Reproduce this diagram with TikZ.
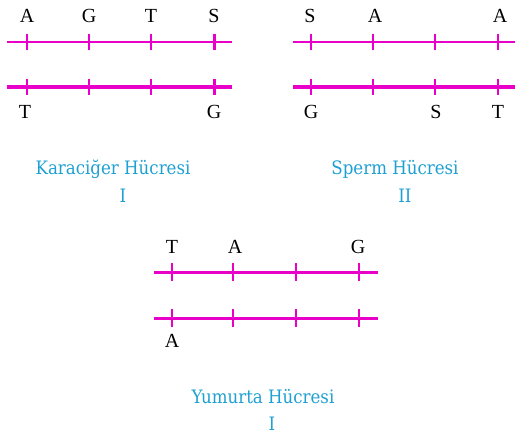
\documentclass[tikz,border=0pt]{standalone}
\usepackage{fontspec}
\setmainfont{Liberation Serif}
\newfontfamily\labfont{DejaVu Serif Condensed}
\definecolor{mag}{RGB}{232,0,200}
\definecolor{lblue}{RGB}{30,160,210}
\tikzset{
  strand/.style={draw=mag, line width=#1},
  tick/.style={draw=mag, line width=#1},
  base/.style={font=\fontsize{20}{20}\selectfont, text=black, inner sep=0pt, anchor=base},
  cell/.style={font=\labfont\fontsize{18.5}{18.5}\selectfont, text=lblue, inner sep=0pt, anchor=base},
}
\begin{document}
\begin{tikzpicture}[x=1pt,y=-1pt]
\useasboundingbox (0,0) rectangle (515,436);
% Panel I
\draw[strand=2.2pt] (7,42) -- (232,42);
\draw[strand=3.2pt] (7,87) -- (232,87);
\foreach \x/\w in {27/1.6pt,89/1.6pt,151/1.6pt,214/3pt}{
  \draw[tick=\w] (\x,34) -- (\x,50);
  \draw[tick=\w] (\x,79) -- (\x,95);
}
\node[base] (a1) at (27,23) {A};
\node[base] (g1) at (89,23) {G};
\node[base] (t1) at (151,23) {T};
\node[base] (s1) at (214,23) {S};
\node[base] (t1b) at (25,119) {T};
\node[base] (g1b) at (214,119) {G};
\node[cell] (k) at (113,175) {Karaciğer Hücresi};
\node[cell] (k1) at (123,202) {I};
% Panel II
\draw[strand=2.2pt] (293,42) -- (515,42);
\draw[strand=3.2pt] (293,87) -- (515,87);
\foreach \x in {311,373,435,498}{
  \draw[tick=1.6pt] (\x,34) -- (\x,50);
  \draw[tick=1.6pt] (\x,79) -- (\x,95);
}
\node[base] (s2) at (310,23) {S};
\node[base] (a2) at (375,23) {A};
\node[base] (a2b) at (500,23) {A};
\node[base] (g2) at (311,119) {G};
\node[base] (s2b) at (436,119) {S};
\node[base] (t2) at (498,119) {T};
\node[cell] (sp) at (395,175) {Sperm Hücresi};
\node[cell] (sp1) at (405,202) {II};
% Panel III
\draw[strand=3pt] (154,272) -- (378,272);
\draw[strand=3pt] (154,318) -- (378,318);
\foreach \x/\w in {172/2.6pt,233/2.6pt,296/2.6pt,359/1.5pt}{
  \draw[tick=\w] (\x,263) -- (\x,281);
  \draw[tick=\w] (\x,309) -- (\x,327);
}
\node[base] (t3) at (172,253) {T};
\node[base] (a3) at (235,253) {A};
\node[base] (g3) at (358,253) {G};
\node[base] (a3b) at (172,347) {A};
\node[cell] (y) at (263,403) {Yumurta Hücresi};
\node[cell] (y1) at (272,430) {I};
\end{tikzpicture}
\end{document}
